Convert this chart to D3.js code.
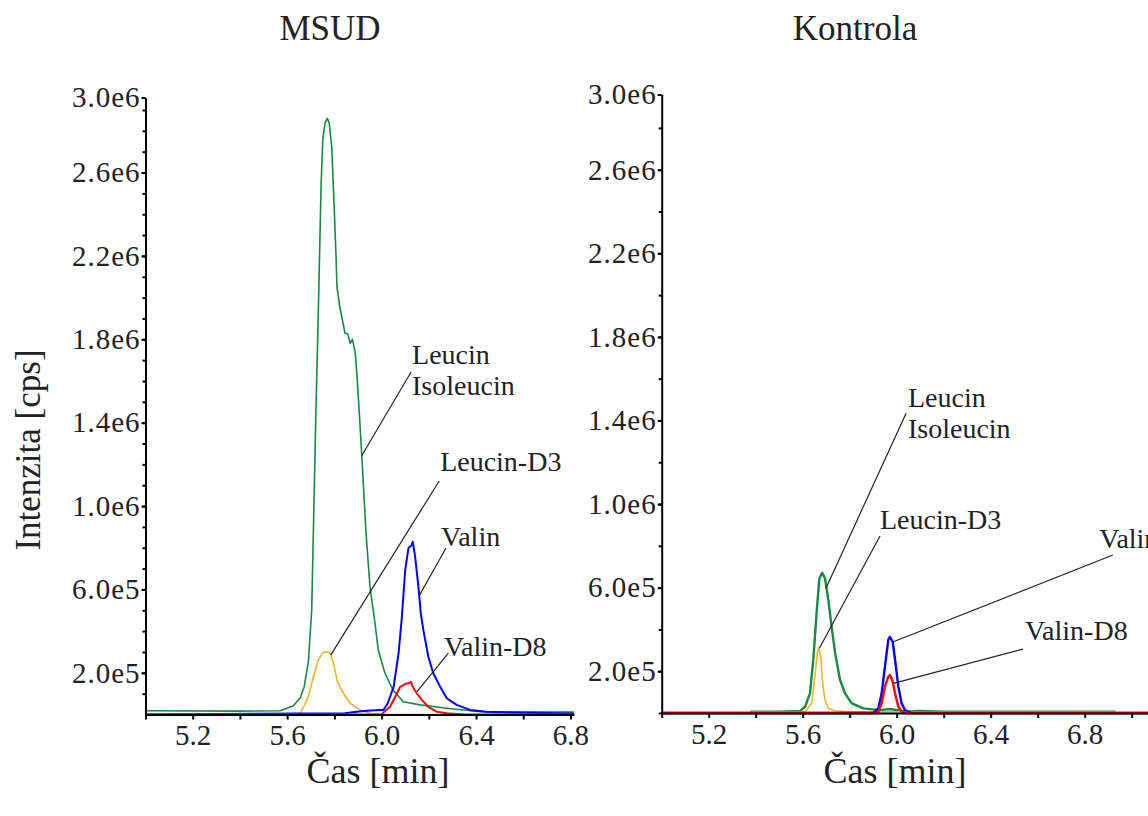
<!DOCTYPE html>
<html>
<head>
<meta charset="utf-8">
<script src="https://cdn.jsdelivr.net/npm/d3@7"></script>
<style>
  body { margin: 0; background: #fff; }
  svg text { font-family: "Liberation Serif", "Times New Roman", serif; fill: #222; }
</style>
</head>
<body>
<div id="chart"></div>
<script>
// time in min, intensity in units of 1e5 cps
var msudLeucin = [[5.00,0.18],[5.40,0.16],[5.57,0.18],[5.625,0.41],[5.655,0.79],[5.672,1.32],[5.690,2.52],[5.704,5.01],[5.713,9.81],[5.722,14.6],[5.732,19.3],[5.744,25.5],[5.751,27.6],[5.761,28.4],[5.770,28.6],[5.778,28.4],[5.789,27.2],[5.800,24.1],[5.807,22.0],[5.811,20.5],[5.824,19.5],[5.838,18.7],[5.845,18.3],[5.857,18.25],[5.867,17.8],[5.876,18.0],[5.888,17.4],[5.895,16.4],[5.906,14.4],[5.916,12.45],[5.934,8.71],[5.951,6.12],[5.972,4.39],[5.986,3.09],[6.014,1.99],[6.048,1.18],[6.092,0.61],[6.163,0.46],[6.276,0.30],[6.417,0.13],[6.815,0.12]];
var msudLeucinD3 = [[5.00,0],[5.655,0.03],[5.690,0.85],[5.711,1.81],[5.732,2.61],[5.751,2.96],[5.768,3.01],[5.782,2.94],[5.796,2.46],[5.813,1.57],[5.838,1.02],[5.867,0.54],[5.909,0.22],[5.951,0.06],[6.0,0],[6.815,0]];
var msudValin = [[5.00,0],[5.845,0.06],[5.895,0.13],[5.938,0.18],[5.994,0.22],[6.008,0.22],[6.026,0.54],[6.051,1.33],[6.072,2.94],[6.086,4.69],[6.100,6.93],[6.114,7.99],[6.128,8.13],[6.132,8.29],[6.142,7.57],[6.156,6.13],[6.166,4.85],[6.177,4.05],[6.198,2.77],[6.219,1.98],[6.248,1.33],[6.276,0.78],[6.318,0.46],[6.375,0.22],[6.445,0.13],[6.6,0.08],[6.815,0.05]];
var msudValinD8 = [[5.00,0],[6.0,0],[6.008,0.09],[6.036,0.37],[6.058,0.85],[6.079,1.33],[6.100,1.46],[6.121,1.53],[6.124,1.57],[6.135,1.26],[6.149,1.02],[6.170,0.70],[6.198,0.37],[6.234,0.13],[6.276,0.06],[6.35,0],[6.815,0]];

var ctrlLeucin = [[5.376,0.06],[5.50,0.06],[5.589,0.10],[5.610,0.30],[5.631,0.94],[5.645,2.54],[5.660,4.93],[5.671,6.44],[5.683,6.71],[5.695,6.44],[5.709,5.41],[5.723,4.13],[5.738,2.86],[5.759,1.58],[5.780,0.94],[5.809,0.46],[5.858,0.22],[5.929,0.14],[5.971,0.19],[6.043,0.06],[6.09,0.10],[6.2,0.06],[6.93,0.06]];
var ctrlLeucinD3 = [[5.376,0.06],[5.610,0.06],[5.638,0.46],[5.652,1.74],[5.662,2.86],[5.669,3.14],[5.677,2.69],[5.685,1.42],[5.695,0.62],[5.709,0.22],[5.738,0.11],[5.787,0.06],[6.93,0.06]];
var ctrlValin = [[5.0,0],[5.900,0],[5.922,0.22],[5.936,0.94],[5.950,2.22],[5.964,3.49],[5.971,3.65],[5.983,3.41],[5.993,2.54],[6.007,1.26],[6.021,0.46],[6.035,0.14],[6.064,0],[7.12,0]];
var ctrlValinD8 = [[5.0,0],[5.915,0],[5.922,0.06],[5.936,0.46],[5.950,1.26],[5.964,1.74],[5.971,1.82],[5.981,1.58],[5.993,0.94],[6.007,0.30],[6.021,0.06],[6.04,0],[7.12,0]];

var yTicks = [2, 6, 10, 14, 18, 22, 26, 30];
var xTicks = [5.2, 5.6, 6.0, 6.4, 6.8];
var xMinor = [5.0, 5.2, 5.4, 5.6, 5.8, 6.0, 6.2, 6.4, 6.6, 6.8, 7.0];

// label text, text anchor [t, v], leader line from / to [t, v]
var msudNotes = [
  { text: ["Leucin", "Isoleucin"], at: [6.129, 16.82], from: [6.125, 16.43], to: [5.915, 12.40] },
  { text: ["Leucin-D3"], at: [6.248, 11.68], from: [6.244, 11.20], to: [5.785, 2.86] },
  { text: ["Valin"], at: [6.252, 8.07], from: [6.273, 7.99], to: [6.160, 5.71] },
  { text: ["Valin-D8"], at: [6.264, 2.80], from: [6.283, 2.94], to: [6.149, 1.09] }
];
var ctrlNotes = [
  { text: ["Leucin", "Isoleucin"], at: [6.048, 14.64], from: [6.040, 14.35], to: [5.699, 5.97] },
  { text: ["Leucin-D3"], at: [5.929, 8.80], from: [5.929, 8.47], to: [5.671, 3.10] },
  { text: ["Valin"], at: [6.862, 7.89], from: [6.920, 7.56], to: [5.986, 3.41] },
  { text: ["Valin-D8"], at: [6.546, 3.49], from: [6.538, 3.06], to: [5.986, 1.42] }
];

var colors = { leu: "#168a44", leuD3: "#f0b428", val: "#0000ff", valD8: "#ff0000" };

var W = 1148, H = 816;
var svg = d3.select("#chart").append("svg")
    .attr("width", W)
    .attr("height", H);

function fmt(v) {
    return d3.format(".1e")(v * 1e5).replace("+", "");
}

function drawPanel(p) {
    var x = d3.scaleLinear().domain(p.xDomain).range(p.xRange);
    var y = d3.scaleLinear().domain([0, 29.6]).range(p.yRange).clamp(true);
    var g = svg.append("g");

    var clipId = "clip" + p.id;
    svg.append("clipPath").attr("id", clipId)
        .append("rect")
        .attr("x", p.xRange[0]).attr("y", p.yRange[1] - 5)
        .attr("width", p.xRange[1] - p.xRange[0])
        .attr("height", p.yRange[0] - p.yRange[1] + 8);

    var line = d3.line()
        .x(function(d) { return x(d[0]); })
        .y(function(d) { return y(d[1]); });

    // traces first, axes drawn on top
    var plot = g.append("g").attr("clip-path", "url(#" + clipId + ")");
    p.series.forEach(function(s) {
        plot.append("path")
            .datum(s.data)
            .attr("fill", "none")
            .attr("stroke", s.color)
            .attr("stroke-width", s.width)
            .attr("stroke-linejoin", "round")
            .attr("d", line);
    });

    // minor ticks
    g.append("g")
        .attr("transform", "translate(" + p.xRange[0] + ",0)")
        .call(d3.axisLeft(y).tickValues(p.yMinor).tickSize(3).tickFormat(""))
        .call(function(s) { s.select(".domain").remove(); });

    var yAxis = g.append("g")
        .attr("transform", "translate(" + p.xRange[0] + ",0)")
        .call(d3.axisLeft(y).tickValues(yTicks).tickSize(4).tickPadding(1).tickSizeOuter(0).tickFormat(fmt));
    yAxis.selectAll("text")
        .style("font-size", "29px")
        .style("letter-spacing", "1px");

    var xAxis = g.append("g")
        .attr("transform", "translate(0," + p.yRange[0] + ")")
        .call(d3.axisBottom(x).tickValues(xMinor.filter(function(d) { return d <= p.xDomain[1]; }))
            .tickSize(5).tickPadding(5).tickSizeOuter(0)
            .tickFormat(function(d) { return xTicks.indexOf(d) >= 0 ? d3.format(".1f")(d) : ""; }));
    xAxis.selectAll("text").style("font-size", "29px");

    g.selectAll(".domain").attr("stroke", "#000").attr("stroke-width", 2);
    g.selectAll(".tick line").attr("stroke", "#000").attr("stroke-width", 2);

    // leader lines and labels
    p.notes.forEach(function(n) {
        g.append("line")
            .attr("x1", x(n.from[0])).attr("y1", y(n.from[1]))
            .attr("x2", x(n.to[0])).attr("y2", y(n.to[1]))
            .attr("stroke", "#222").attr("stroke-width", 1.2);
        var t = g.append("text")
            .attr("x", x(n.at[0]))
            .attr("y", y(n.at[1]))
            .style("font-size", "28px");
        n.text.forEach(function(s, i) {
            t.append("tspan")
                .attr("x", x(n.at[0]))
                .attr("dy", i == 0 ? 0 : 31)
                .text(s);
        });
    });

    svg.append("text")
        .attr("x", p.titleX).attr("y", 40)
        .attr("text-anchor", "middle")
        .style("font-size", "35px")
        .text(p.title);

    svg.append("text")
        .attr("x", p.xLabelX).attr("y", 783)
        .attr("text-anchor", "middle")
        .style("font-size", "36px")
        .text("Čas [min]");
}

drawPanel({
    id: "a", title: "MSUD", titleX: 330, xLabelX: 378,
    xDomain: [5.0, 6.815], xRange: [145.5, 574],
    yRange: [714.5, 97.5],
    yMinor: d3.range(1, 30, 1),
    series: [
        { data: msudLeucinD3, color: colors.leuD3, width: 1.6 },
        { data: msudLeucin, color: colors.leu, width: 1.6 },
        { data: msudValin, color: colors.val, width: 2 },
        { data: msudValinD8, color: colors.valD8, width: 2 }
    ],
    notes: msudNotes
});

drawPanel({
    id: "b", title: "Kontrola", titleX: 855, xLabelX: 895,
    xDomain: [5.0, 7.12], xRange: [661.7, 1159.9],
    yRange: [713, 94.5],
    yMinor: d3.range(0, 30, 2),
    series: [
        { data: ctrlLeucin, color: colors.leu, width: 2.4 },
        { data: ctrlLeucinD3, color: colors.leuD3, width: 1.6 },
        { data: ctrlValin, color: colors.val, width: 2.4 },
        { data: ctrlValinD8, color: colors.valD8, width: 2.4 }
    ],
    notes: ctrlNotes
});

svg.append("text")
    .attr("transform", "translate(40,450) rotate(-90)")
    .attr("text-anchor", "middle")
    .style("font-size", "35px")
    .text("Intenzita [cps]");
</script>
</body>
</html>
